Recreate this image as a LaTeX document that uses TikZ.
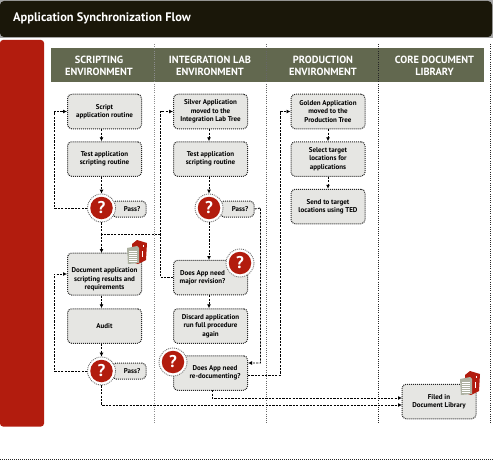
\documentclass[tikz,border=0pt]{standalone}
\usepackage{fontspec}
\setmainfont{PT Sans}
\usetikzlibrary{arrows.meta}
\definecolor{titleblack}{HTML}{1A1709}
\definecolor{flowred}{HTML}{B21C0E}
\definecolor{bandgreen}{HTML}{62684F}
\definecolor{boxgray}{HTML}{E6E6E3}
\definecolor{pagegray}{HTML}{AEB2A2}
\newcommand{\docicon}[2]{%
  \begin{scope}[shift={(#1,#2)}]
    \fill[flowred] (5,-8) -- (10,-12) -- (20,-9) -- (19,8) -- (11,12) -- (5,10) -- cycle;
    \draw[white,line width=0.5pt] (16,-7) -- (16,-5) (15.5,-1) -- (15.5,5);
    \fill[pagegray] (0,-4) -- (10,-6) -- (12,-4) -- (12,11) -- (1,12) -- cycle;
    \foreach \y in {-1,1,...,9} \draw[white,line width=0.7pt] (2,\y) -- (10,\y);
  \end{scope}}
\begin{document}
\begin{tikzpicture}[
    x=1pt, y=-1pt,
    stepbox/.style={rectangle, rounded corners=4pt, draw=black!85, dash pattern=on 1pt off 1pt, line width=1pt, fill=boxgray, minimum width=74pt, minimum height=34.5pt, align=center, inner sep=1pt, font=\fontsize{7}{8.5}\selectfont\bfseries},
    passbox/.style={stepbox, minimum width=34pt, minimum height=16pt},
    askring/.style={circle, draw=black!60, dash pattern=on 1pt off 1pt, line width=0.8pt, fill=white, minimum size=28pt, inner sep=0pt},
    askdot/.style={circle, fill=flowred, text=white, minimum size=22.5pt, inner sep=0pt, font=\fontsize{17}{17}\selectfont\bfseries},
    headtext/.style={text=white, align=center, font=\fontsize{10.4}{12}\selectfont\bfseries},
    laneline/.style={draw=black!80, dash pattern=on 1pt off 1.2pt, line width=0.9pt},
    arrow/.style={-{Latex[length=4pt,width=4pt]}, dash pattern=on 2.2pt off 1.2pt, line width=0.9pt},
    link/.style={dash pattern=on 2.2pt off 1.2pt, line width=0.9pt}
]
\useasboundingbox (0,0) rectangle (493,460);

% title and side panel
\fill[black!35] (0,0) rectangle (493,38);
\fill[titleblack, rounded corners=4pt] (0,1) rectangle (492,37);
\node[text=white, anchor=west, inner sep=0pt, font=\fontsize{12.4}{13}\selectfont\bfseries] (title) at (13,18) {Application Synchronization Flow};
\fill[flowred, rounded corners=3pt] (0,40) rectangle (44,426.5);

% lanes
\fill[bandgreen] (51,48) rectangle (484,82);
\foreach \x/\c in {154/45,266.5/60,378.5/85,490.5/85} \draw[laneline, draw=black!\c] (\x,44) -- (\x,424);
\draw[black!85, dash pattern=on 1pt off 1pt, line width=0.7pt] (0,459.5) -- (493,459.5);
\node[headtext] (headscript) at (99,65.5) {SCRIPTING\\ENVIRONMENT};
\node[headtext] (headlab) at (210,65.5) {INTEGRATION LAB\\ENVIRONMENT};
\node[headtext] (headprod) at (323,65.5) {PRODUCTION\\ENVIRONMENT};
\node[headtext] (headcore) at (434.5,65.5) {CORE DOCUMENT\\LIBRARY};

% pass tags sit behind the question marks
\node[passbox, text depth=0pt] (passa) at (129,209) {\hspace*{6pt}Pass?};
\node[passbox] (passb) at (129,371) {\hspace*{6pt}Pass?};
\node[passbox] (passc) at (237,209) {\hspace*{6pt}Pass?};

% scripting
\node[stepbox] (script) at (104.5,111.5) {Script\\application routine};
\node[stepbox] (testa) at (104.5,159) {Test application\\scripting routine};
\node[stepbox, minimum height=42pt] (document) at (104.5,274) {\rule{0pt}{16pt}Document application\\scripting results and\\requirements};
\node[stepbox] (audit) at (104.5,326) {Audit};

% integration lab
\node[stepbox] (silver) at (210.5,111.5) {Silver Application\\moved to the\\Integration Lab Tree};
\node[stepbox] (testb) at (210.5,159) {Test application\\scripting routine};
\node[stepbox] (major) at (210.5,277.5) {\hspace*{-16pt}Does App need\\\hspace*{-16pt}major revision?};
\node[stepbox] (discard) at (210.5,326) {Discard application\\run full procedure\\again};
\node[stepbox] (redoc) at (210.5,373) {\hspace*{9pt}Does App need\\\hspace*{9pt}re-documenting?};

% production
\node[stepbox] (golden) at (328,111.5) {Golden Application\\moved to the\\Production Tree};
\node[stepbox] (select) at (328,159) {Select target\\locations for\\applications};
\node[stepbox] (send) at (328,206.5) {Send to target\\locations using TED};

% library
\node[stepbox] (filed) at (439,401.5) {Filed in\\Document Library};
\docicon{127}{252}
\docicon{460}{383}

% question marks
\foreach \name/\x/\y in {aska/101.5/208, askb/101.5/371, askc/209/208, askd/240/263, aske/173/362} {
  \node[askring] (\name) at (\x,\y) {};
  \node[askdot] (\name dot) at (\x,\y) {?};
}

\coordinate (joint) at (160.5,234.5);

\draw[arrow] (script.south -| aska) -- (testa.north -| aska);
\draw[arrow] (testa.south -| aska) -- (aska);
\draw[arrow] (aska.west) -- (54,208) |- (script.west);
\draw[link] (aska) -- (101.5,234.5);
\draw[arrow] (joint) -- (101.5,234.5) -- (101.5,253);
\draw[arrow] (document.south -| aska) -- (audit.north -| aska);
\draw[arrow] (audit.south -| aska) -- (askb);
\draw[arrow] (askb.west) -- (54,371) |- (document.west);
\draw[arrow] (askb.south) -- (101.5,405) -- (402,405);

\draw[arrow] (silver.south -| askc) -- (testb.north -| askc);
\draw[arrow] (testb.south -| askc) -- (askc);
\draw[arrow] (askc) -- (209,260);
\draw[arrow] (major.south -| askc) -- (discard.north -| askc);
\draw[arrow] (major.west) -- (160.5,277.5) |- (silver.west);
\draw[arrow] (passc.east) -- (260.5,208) |- (redoc.east |- 0,363);
\draw[arrow] (redoc.east |- 0,375) -- (280.5,375) |- (golden.west);
\draw[arrow] (212,390.25) -- (212,398) -- (402,398);

\draw[arrow] (golden) -- (select);
\draw[arrow] (select) -- (send);
\end{tikzpicture}
\end{document}
